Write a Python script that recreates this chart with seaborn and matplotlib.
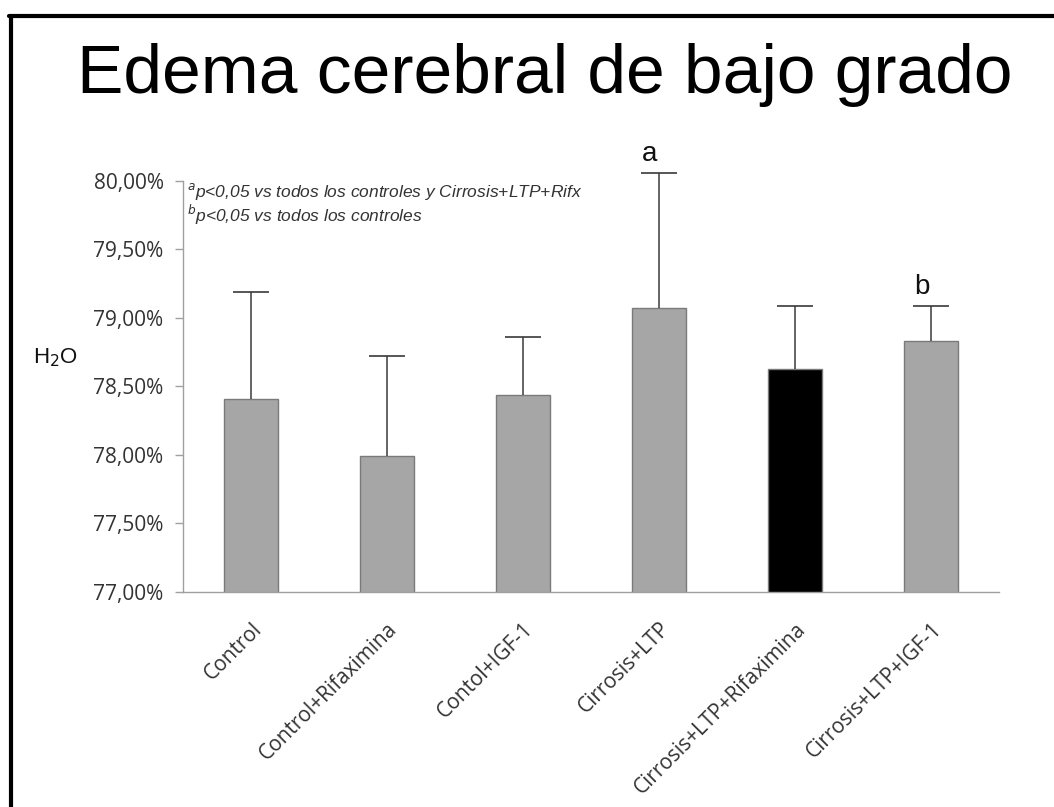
import matplotlib
matplotlib.use("Agg")
import matplotlib.pyplot as plt
import seaborn as sns
import pandas as pd

# Brain water content per group (%), mean and upper SD
groups = ["Control", "Control+Rifaximina", "Contol+IGF-1", "Cirrosis+LTP",
          "Cirrosis+LTP+Rifaximina", "Cirrosis+LTP+IGF-1"]
water = [78.41, 77.99, 78.44, 79.07, 78.63, 78.83]
sd = [0.78, 0.73, 0.42, 0.99, 0.46, 0.26]
bar_colors = ["#a6a6a6", "#a6a6a6", "#a6a6a6", "#a6a6a6", "#000000", "#a6a6a6"]
sig_marks = ["", "", "", "a", "", "b"]

y_ticks = [77.0, 77.5, 78.0, 78.5, 79.0, 79.5, 80.0]
y_tick_labels = ["77,00%", "77,50%", "78,00%", "78,50%", "79,00%", "79,50%", "80,00%"]

sns.set_style("white")
plt.rcParams["font.family"] = ["Open Sans", "DejaVu Sans"]

df = pd.DataFrame({"grupo": groups, "h2o": water})

W, H = 1054, 807
fig = plt.figure(figsize=(W / 100, H / 100), dpi=100)
ax = fig.add_axes([183 / W, 1 - 592 / H, (999 - 183) / W, (592 - 181) / H])

sns.barplot(data=df, x="grupo", y="h2o", hue="grupo", palette=bar_colors,
            legend=False, width=0.40, edgecolor="#7a7a7a", linewidth=1.0,
            ax=ax, errorbar=None)

# upper-only error bars (lower cap hidden)
xs = list(range(len(groups)))
eb = ax.errorbar(xs, water, yerr=[[0] * len(sd), sd], fmt="none", ecolor="#3a3a3a",
                 elinewidth=1.1, capsize=13, capthick=1.2, zorder=5)
eb[1][0].set_visible(False)
for artist in list(eb[1]) + list(eb[2]):
    artist.set_clip_on(False)

# significance letters above the caps
for x, m, s, e in zip(xs, sig_marks, water, sd):
    if m:
        ax.text(x - 0.07, s + e + 0.04, m, ha="center", va="bottom",
                fontsize=20, family="Liberation Sans", color="#111111", clip_on=False)

ax.set_ylim(77.0, 80.0)
ax.set_xlim(-0.5, len(groups) - 0.5)
ax.set_yticks(y_ticks)
ax.set_yticklabels(y_tick_labels, fontsize=15, color="#333333")
ax.set_xticks(xs)
ax.set_xticklabels(groups, rotation=45, ha="right", rotation_mode="anchor",
                   fontsize=15, color="#333333")
ax.set_xticks([i - 0.5 for i in range(len(groups) + 1)], minor=True)
ax.tick_params(axis="x", which="major", length=0, pad=19)
ax.tick_params(axis="x", which="minor", length=6, color="#a0a0a0", width=1, direction="out")
ax.tick_params(axis="y", length=6, color="#a0a0a0", width=1, direction="out", pad=8, left=True)
ax.set_xlabel("")
ax.set_ylabel("")
for side in ["top", "right"]:
    ax.spines[side].set_visible(False)
for side in ["left", "bottom"]:
    ax.spines[side].set_color("#a0a0a0")
    ax.spines[side].set_linewidth(1.0)

# y-axis quantity
fig.text(33 / W, 1 - 358 / H, "H$_2$O", fontsize=16, family="Liberation Sans",
         color="#111111", va="center", ha="left")

# footnote with superscript markers
fig.text(187 / W, 1 - 192 / H, "$^{a}$p<0,05 vs todos los controles y Cirrosis+LTP+Rifx",
         fontsize=12.5, style="italic", family="Liberation Sans", color="#333333", va="center")
fig.text(187 / W, 1 - 215 / H, "$^{b}$p<0,05 vs todos los controles",
         fontsize=12.5, style="italic", family="Liberation Sans", color="#333333", va="center")

# title
fig.text(0.5 + 18 / W, 1 - 75 / H, "Edema cerebral de bajo grado", ha="center", va="center",
         fontsize=50, family="Liberation Sans", color="#000000")

# slide frame (left and top edges)
fig.add_artist(plt.Line2D([10.5 / W, 10.5 / W], [0, 1 - 15.5 / H], transform=fig.transFigure,
                          color="black", linewidth=3))
fig.add_artist(plt.Line2D([9 / W, 1.0], [1 - 15.5 / H, 1 - 15.5 / H], transform=fig.transFigure,
                          color="black", linewidth=3))

fig.savefig("out.png", dpi=100)
